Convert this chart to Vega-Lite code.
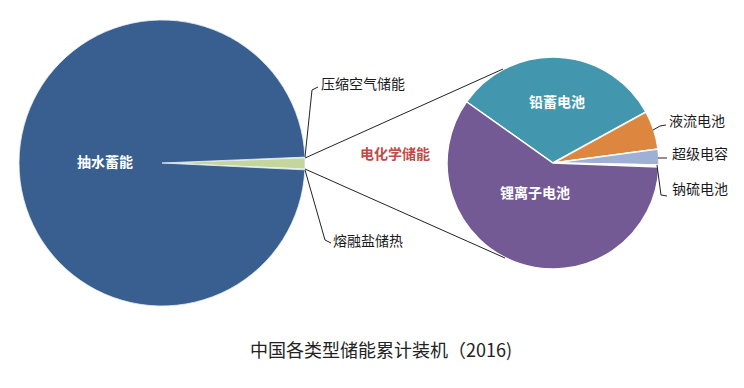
{
  "$schema": "https://vega.github.io/schema/vega-lite/v6.json",
  "width": 744,
  "height": 388,
  "padding": 0,
  "autosize": {"type": "fit", "contains": "padding"},
  "background": "white",
  "config": {"view": {"stroke": null}, "axis": {"disable": true}, "legend": {"disable": true}},
  "datasets": {
    "big": [
      {"类别": "压缩空气储能", "值": 0.1, "i": 1},
      {"类别": "电化学储能", "值": 1.22, "i": 2},
      {"类别": "熔融盐储热", "值": 0.1, "i": 3},
      {"类别": "抽水蓄能", "值": 98.58, "i": 4}
    ],
    "small": [
      {"类别": "铅蓄电池", "值": 32.2, "i": 1},
      {"类别": "液流电池", "值": 5.9, "i": 2},
      {"类别": "超级电容", "值": 2.4, "i": 3},
      {"类别": "钠硫电池", "值": 0.3, "i": 4},
      {"类别": "锂离子电池", "值": 59.2, "i": 5}
    ]
  },
  "resolve": {"scale": {"theta": "independent"}},
  "layer": [
    {
      "data": {"name": "big"},
      "mark": {"type": "arc", "outerRadius": 143, "stroke": "#e8f0f8", "strokeWidth": 0.8},
      "encoding": {
        "theta": {"field": "值", "type": "quantitative", "stack": true, "scale": {"range": [1.5296, 7.8128]}},
        "order": {"field": "i", "type": "quantitative"},
        "color": {"field": "类别", "type": "nominal", "scale": {"domain": ["压缩空气储能", "电化学储能", "熔融盐储热", "抽水蓄能", "铅蓄电池", "液流电池", "超级电容", "钠硫电池", "锂离子电池"], "range": ["#d7e4ee", "#c4d69c", "#d7e4ee", "#385f8f", "#4297ae", "#dc8640", "#9eb0d6", "#d8dde8", "#735a95"]}},
        "x": {"datum": 162, "type": "quantitative", "scale": {"domain": [0, 744], "nice": false, "zero": false}},
        "y": {"datum": 163, "type": "quantitative", "scale": {"domain": [0, 388], "reverse": true, "nice": false, "zero": false}}
      }
    },
    {
      "data": {"name": "small"},
      "mark": {"type": "arc", "outerRadius": 106, "stroke": "white", "strokeWidth": 1.5},
      "encoding": {
        "theta": {"field": "值", "type": "quantitative", "stack": true, "scale": {"range": [5.3285, 11.6117]}},
        "order": {"field": "i", "type": "quantitative"},
        "color": {"field": "类别", "type": "nominal"},
        "x": {"datum": 553, "type": "quantitative", "scale": {"domain": [0, 744], "nice": false, "zero": false}},
        "y": {"datum": 163, "type": "quantitative", "scale": {"domain": [0, 388], "reverse": true, "nice": false, "zero": false}}
      }
    },
    {
      "data": {"name": "big"},
      "transform": [{"filter": "datum['类别'] == '电化学储能'"}],
      "mark": {"type": "rule", "color": "#222", "strokeWidth": 1},
      "encoding": {
        "x": {"datum": 305, "type": "quantitative", "scale": {"domain": [0, 744], "nice": false, "zero": false}},
        "y": {"datum": 158, "type": "quantitative", "scale": {"domain": [0, 388], "reverse": true, "nice": false, "zero": false}},
        "x2": {"datum": 503},
        "y2": {"datum": 69}
      }
    },
    {
      "data": {"name": "big"},
      "transform": [{"filter": "datum['类别'] == '电化学储能'"}],
      "mark": {"type": "rule", "color": "#222", "strokeWidth": 1},
      "encoding": {
        "x": {"datum": 305, "type": "quantitative", "scale": {"domain": [0, 744], "nice": false, "zero": false}},
        "y": {"datum": 169, "type": "quantitative", "scale": {"domain": [0, 388], "reverse": true, "nice": false, "zero": false}},
        "x2": {"datum": 505},
        "y2": {"datum": 258}
      }
    },
    {
      "data": {"name": "big"},
      "transform": [{"filter": "datum['类别'] == '压缩空气储能'"}],
      "mark": {"type": "rule", "color": "#222", "strokeWidth": 1},
      "encoding": {
        "x": {"datum": 305, "type": "quantitative", "scale": {"domain": [0, 744], "nice": false, "zero": false}},
        "y": {"datum": 157, "type": "quantitative", "scale": {"domain": [0, 388], "reverse": true, "nice": false, "zero": false}},
        "x2": {"datum": 312},
        "y2": {"datum": 90}
      }
    },
    {
      "data": {"name": "big"},
      "transform": [{"filter": "datum['类别'] == '压缩空气储能'"}],
      "mark": {"type": "rule", "color": "#222", "strokeWidth": 1},
      "encoding": {
        "x": {"datum": 312, "type": "quantitative", "scale": {"domain": [0, 744], "nice": false, "zero": false}},
        "y": {"datum": 90, "type": "quantitative", "scale": {"domain": [0, 388], "reverse": true, "nice": false, "zero": false}},
        "x2": {"datum": 318},
        "y2": {"datum": 87}
      }
    },
    {
      "data": {"name": "big"},
      "transform": [{"filter": "datum['类别'] == '熔融盐储热'"}],
      "mark": {"type": "rule", "color": "#222", "strokeWidth": 1},
      "encoding": {
        "x": {"datum": 305, "type": "quantitative", "scale": {"domain": [0, 744], "nice": false, "zero": false}},
        "y": {"datum": 170, "type": "quantitative", "scale": {"domain": [0, 388], "reverse": true, "nice": false, "zero": false}},
        "x2": {"datum": 325},
        "y2": {"datum": 240}
      }
    },
    {
      "data": {"name": "big"},
      "transform": [{"filter": "datum['类别'] == '熔融盐储热'"}],
      "mark": {"type": "rule", "color": "#222", "strokeWidth": 1},
      "encoding": {
        "x": {"datum": 325, "type": "quantitative", "scale": {"domain": [0, 744], "nice": false, "zero": false}},
        "y": {"datum": 240, "type": "quantitative", "scale": {"domain": [0, 388], "reverse": true, "nice": false, "zero": false}},
        "x2": {"datum": 331},
        "y2": {"datum": 243}
      }
    },
    {
      "data": {"name": "small"},
      "transform": [{"filter": "datum['类别'] == '液流电池'"}],
      "mark": {"type": "rule", "color": "#222", "strokeWidth": 1},
      "encoding": {
        "x": {"datum": 653, "type": "quantitative", "scale": {"domain": [0, 744], "nice": false, "zero": false}},
        "y": {"datum": 130, "type": "quantitative", "scale": {"domain": [0, 388], "reverse": true, "nice": false, "zero": false}},
        "x2": {"datum": 660},
        "y2": {"datum": 126}
      }
    },
    {
      "data": {"name": "small"},
      "transform": [{"filter": "datum['类别'] == '液流电池'"}],
      "mark": {"type": "rule", "color": "#222", "strokeWidth": 1},
      "encoding": {
        "x": {"datum": 660, "type": "quantitative", "scale": {"domain": [0, 744], "nice": false, "zero": false}},
        "y": {"datum": 126, "type": "quantitative", "scale": {"domain": [0, 388], "reverse": true, "nice": false, "zero": false}},
        "x2": {"datum": 666},
        "y2": {"datum": 125}
      }
    },
    {
      "data": {"name": "small"},
      "transform": [{"filter": "datum['类别'] == '超级电容'"}],
      "mark": {"type": "rule", "color": "#222", "strokeWidth": 1},
      "encoding": {
        "x": {"datum": 658, "type": "quantitative", "scale": {"domain": [0, 744], "nice": false, "zero": false}},
        "y": {"datum": 158, "type": "quantitative", "scale": {"domain": [0, 388], "reverse": true, "nice": false, "zero": false}},
        "x2": {"datum": 667},
        "y2": {"datum": 158}
      }
    },
    {
      "data": {"name": "small"},
      "transform": [{"filter": "datum['类别'] == '钠硫电池'"}],
      "mark": {"type": "rule", "color": "#222", "strokeWidth": 1},
      "encoding": {
        "x": {"datum": 657, "type": "quantitative", "scale": {"domain": [0, 744], "nice": false, "zero": false}},
        "y": {"datum": 165, "type": "quantitative", "scale": {"domain": [0, 388], "reverse": true, "nice": false, "zero": false}},
        "x2": {"datum": 661},
        "y2": {"datum": 195}
      }
    },
    {
      "data": {"name": "small"},
      "transform": [{"filter": "datum['类别'] == '钠硫电池'"}],
      "mark": {"type": "rule", "color": "#222", "strokeWidth": 1},
      "encoding": {
        "x": {"datum": 661, "type": "quantitative", "scale": {"domain": [0, 744], "nice": false, "zero": false}},
        "y": {"datum": 195, "type": "quantitative", "scale": {"domain": [0, 388], "reverse": true, "nice": false, "zero": false}},
        "x2": {"datum": 667},
        "y2": {"datum": 196}
      }
    },
    {
      "data": {"name": "big"},
      "transform": [{"filter": "datum['类别'] == '抽水蓄能'"}],
      "mark": {"type": "text", "align": "center", "baseline": "middle", "font": "Noto Sans CJK SC", "fontSize": 14, "fontWeight": "bold", "color": "white"},
      "encoding": {
        "text": {"field": "类别"},
        "x": {"datum": 105, "type": "quantitative", "scale": {"domain": [0, 744], "nice": false, "zero": false}},
        "y": {"datum": 163, "type": "quantitative", "scale": {"domain": [0, 388], "reverse": true, "nice": false, "zero": false}}
      }
    },
    {
      "data": {"name": "big"},
      "transform": [{"filter": "datum['类别'] == '电化学储能'"}],
      "mark": {"type": "text", "align": "center", "baseline": "middle", "font": "Noto Sans CJK SC", "fontSize": 14, "fontWeight": "bold", "color": "#bf4b49"},
      "encoding": {
        "text": {"field": "类别"},
        "x": {"datum": 395, "type": "quantitative", "scale": {"domain": [0, 744], "nice": false, "zero": false}},
        "y": {"datum": 155, "type": "quantitative", "scale": {"domain": [0, 388], "reverse": true, "nice": false, "zero": false}}
      }
    },
    {
      "data": {"name": "big"},
      "transform": [{"filter": "datum['类别'] == '压缩空气储能'"}],
      "mark": {"type": "text", "align": "left", "baseline": "middle", "font": "Noto Sans CJK SC", "fontSize": 14, "color": "#1a1a1a"},
      "encoding": {
        "text": {"field": "类别"},
        "x": {"datum": 321, "type": "quantitative", "scale": {"domain": [0, 744], "nice": false, "zero": false}},
        "y": {"datum": 85, "type": "quantitative", "scale": {"domain": [0, 388], "reverse": true, "nice": false, "zero": false}}
      }
    },
    {
      "data": {"name": "big"},
      "transform": [{"filter": "datum['类别'] == '熔融盐储热'"}],
      "mark": {"type": "text", "align": "left", "baseline": "middle", "font": "Noto Sans CJK SC", "fontSize": 14, "color": "#1a1a1a"},
      "encoding": {
        "text": {"field": "类别"},
        "x": {"datum": 333, "type": "quantitative", "scale": {"domain": [0, 744], "nice": false, "zero": false}},
        "y": {"datum": 242, "type": "quantitative", "scale": {"domain": [0, 388], "reverse": true, "nice": false, "zero": false}}
      }
    },
    {
      "data": {"name": "small"},
      "transform": [{"filter": "datum['类别'] == '铅蓄电池'"}],
      "mark": {"type": "text", "align": "center", "baseline": "middle", "font": "Noto Sans CJK SC", "fontSize": 14, "fontWeight": "bold", "color": "white"},
      "encoding": {
        "text": {"field": "类别"},
        "x": {"datum": 557, "type": "quantitative", "scale": {"domain": [0, 744], "nice": false, "zero": false}},
        "y": {"datum": 103, "type": "quantitative", "scale": {"domain": [0, 388], "reverse": true, "nice": false, "zero": false}}
      }
    },
    {
      "data": {"name": "small"},
      "transform": [{"filter": "datum['类别'] == '锂离子电池'"}],
      "mark": {"type": "text", "align": "center", "baseline": "middle", "font": "Noto Sans CJK SC", "fontSize": 14, "fontWeight": "bold", "color": "white"},
      "encoding": {
        "text": {"field": "类别"},
        "x": {"datum": 535, "type": "quantitative", "scale": {"domain": [0, 744], "nice": false, "zero": false}},
        "y": {"datum": 194, "type": "quantitative", "scale": {"domain": [0, 388], "reverse": true, "nice": false, "zero": false}}
      }
    },
    {
      "data": {"name": "small"},
      "transform": [{"filter": "datum['类别'] == '液流电池'"}],
      "mark": {"type": "text", "align": "left", "baseline": "middle", "font": "Noto Sans CJK SC", "fontSize": 14, "color": "#1a1a1a"},
      "encoding": {
        "text": {"field": "类别"},
        "x": {"datum": 669, "type": "quantitative", "scale": {"domain": [0, 744], "nice": false, "zero": false}},
        "y": {"datum": 122, "type": "quantitative", "scale": {"domain": [0, 388], "reverse": true, "nice": false, "zero": false}}
      }
    },
    {
      "data": {"name": "small"},
      "transform": [{"filter": "datum['类别'] == '超级电容'"}],
      "mark": {"type": "text", "align": "left", "baseline": "middle", "font": "Noto Sans CJK SC", "fontSize": 14, "color": "#1a1a1a"},
      "encoding": {
        "text": {"field": "类别"},
        "x": {"datum": 672, "type": "quantitative", "scale": {"domain": [0, 744], "nice": false, "zero": false}},
        "y": {"datum": 155, "type": "quantitative", "scale": {"domain": [0, 388], "reverse": true, "nice": false, "zero": false}}
      }
    },
    {
      "data": {"name": "small"},
      "transform": [{"filter": "datum['类别'] == '钠硫电池'"}],
      "mark": {"type": "text", "align": "left", "baseline": "middle", "font": "Noto Sans CJK SC", "fontSize": 14, "color": "#1a1a1a"},
      "encoding": {
        "text": {"field": "类别"},
        "x": {"datum": 672, "type": "quantitative", "scale": {"domain": [0, 744], "nice": false, "zero": false}},
        "y": {"datum": 190, "type": "quantitative", "scale": {"domain": [0, 388], "reverse": true, "nice": false, "zero": false}}
      }
    },
    {
      "data": {"values": [{"标题": "中国各类型储能累计装机（2016)"}]},
      "mark": {"type": "text", "align": "center", "baseline": "middle", "font": "Noto Sans CJK SC", "fontSize": 18, "color": "#222"},
      "encoding": {
        "text": {"field": "标题"},
        "x": {"datum": 381, "type": "quantitative", "scale": {"domain": [0, 744], "nice": false, "zero": false}},
        "y": {"datum": 352, "type": "quantitative", "scale": {"domain": [0, 388], "reverse": true, "nice": false, "zero": false}}
      }
    }
  ]
}
